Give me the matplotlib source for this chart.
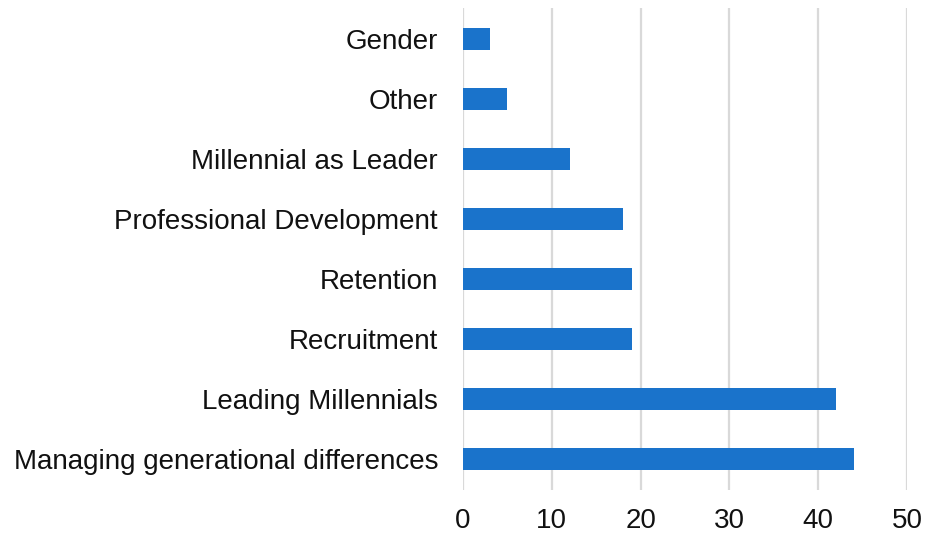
import matplotlib.pyplot as plt

plt.rcParams['font.family'] = ['Liberation Sans', 'DejaVu Sans']

categories = ['Managing generational differences', 'Leading Millennials', 'Recruitment',
              'Retention', 'Professional Development', 'Millennial as Leader', 'Other', 'Gender']
values = [44, 42, 19, 19, 18, 12, 5, 3]
x_ticks = [0, 10, 20, 30, 40, 50]

fig = plt.figure(figsize=(9.26, 5.37), dpi=100)
ax = fig.add_axes([0.5, 0.0875, 0.4795, 0.8975])

ax.barh(range(len(categories)), values, height=0.37, color='#1a73cb', zorder=3)
ax.set_yticks(range(len(categories)))
ax.set_yticklabels(categories, fontsize=20, color='#111111')
ax.set_xticks(x_ticks)
ax.set_xticklabels([str(t) for t in x_ticks], fontsize=20, color='#111111')
ax.set_xlim(0, 50)
ax.set_ylim(-0.52, 7.52)
ax.grid(axis='x', color='#d9d9d9', linewidth=1.6, zorder=0)
ax.tick_params(axis='both', length=0)
ax.tick_params(axis='y', pad=18)
ax.tick_params(axis='x', pad=13)
for s in ax.spines.values():
    s.set_visible(False)

fig.savefig('out.png', dpi=100)
